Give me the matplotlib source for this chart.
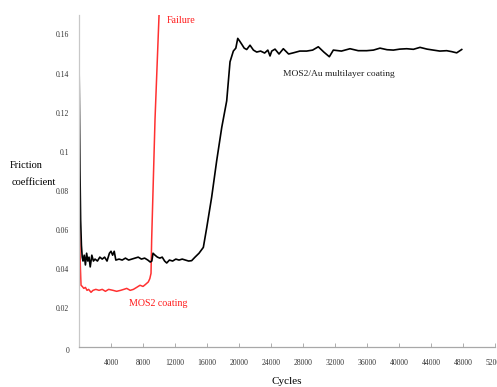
import numpy as np
import matplotlib
matplotlib.use('Agg')
import matplotlib.pyplot as plt

# MoS2/Au multilayer coating (black)
au_cycles = [0, 60, 120, 200, 300, 400, 500, 650, 800, 950, 1100, 1250, 1400, 1600,
             1800, 2000, 2300, 2600, 2900, 3200, 3500, 3800, 4000, 4200, 4400, 4600,
             5000, 5400, 5800, 6200, 6600, 7000, 7400, 7800, 8200, 8600, 8900, 9100,
             9250, 9500, 9800, 10100, 10400, 10700, 10960, 11300, 11700, 12100, 12500,
             12900, 13300, 13700, 14080, 14500, 15000, 15540, 15960, 16580, 17210,
             17840, 18460, 18875, 19290, 19600, 19840, 20100, 20340, 20650, 20960,
             21375, 21800, 22210, 22700, 23200, 23600, 23875, 24090, 24500, 25000,
             25540, 26200, 26790, 27600, 28460, 29200, 29910, 30600, 31290, 31790,
             32800, 33875, 34900, 35960, 36800, 37625, 38500, 39290, 40100, 40960,
             41800, 42625, 43500, 44290, 45100, 45960, 46600, 47210, 47840]
au_mu = [0.148, 0.12, 0.09, 0.065, 0.052, 0.046, 0.044, 0.047, 0.042, 0.048, 0.044,
         0.046, 0.041, 0.047, 0.044, 0.045, 0.044, 0.046, 0.045, 0.046, 0.044, 0.048,
         0.049, 0.047, 0.049, 0.0445, 0.045, 0.0445, 0.0455, 0.0445, 0.045, 0.0455,
         0.046, 0.045, 0.0455, 0.0445, 0.0435, 0.044, 0.048, 0.047, 0.046, 0.0455,
         0.046, 0.044, 0.043, 0.0445, 0.044, 0.045, 0.0445, 0.045, 0.0445, 0.044,
         0.0442, 0.046, 0.048, 0.051, 0.061, 0.0767, 0.0954, 0.1124, 0.126, 0.146,
         0.1515, 0.153, 0.158, 0.1565, 0.155, 0.153, 0.1523, 0.1545, 0.152, 0.151,
         0.1515, 0.1505, 0.152, 0.149, 0.1515, 0.1525, 0.150, 0.1527, 0.150, 0.1506,
         0.1515, 0.1515, 0.152, 0.1537, 0.151, 0.1486, 0.152, 0.1515, 0.1527, 0.1517,
         0.1517, 0.152, 0.153, 0.1522, 0.152, 0.1525, 0.1527, 0.1524, 0.1534, 0.1525,
         0.152, 0.1515, 0.1517, 0.1512, 0.1506, 0.1523]

# MoS2 coating (red)
mos2_cycles = [0, 80, 160, 250, 400, 600, 800, 1000, 1200, 1500, 1750, 2100, 2500,
               2900, 3300, 3700, 4250, 4700, 5200, 5600, 5960, 6400, 6800, 7200, 7625,
               8000, 8300, 8660, 8850, 9000, 9080, 9500, 10050]
mos2_mu = [0.081, 0.06, 0.042, 0.0316, 0.031, 0.030, 0.0305, 0.029, 0.0295, 0.028,
           0.029, 0.0295, 0.029, 0.0295, 0.0285, 0.0295, 0.029, 0.0285, 0.029, 0.0295,
           0.030, 0.029, 0.0295, 0.0305, 0.0316, 0.031, 0.032, 0.0333, 0.035, 0.0377,
           0.055, 0.1166, 0.175]

x_ticks = np.arange(4000, 52001, 4000)
y_ticks = np.arange(0, 0.161, 0.02)
y_tick_labels = ['0', '0.02', '0.04', '0.06', '0.08', '0.1', '0.12', '0.14', '0.16']

plt.rcParams['font.family'] = ['Liberation Serif', 'DejaVu Serif']

fig = plt.figure(figsize=(4.97, 3.87), dpi=100)
ax = fig.add_axes([0.159, 0.1034, 0.837, 0.858])

ax.plot(mos2_cycles, mos2_mu, color='#ff1a1a', lw=1.1, alpha=0.9)
ax.plot(au_cycles, au_mu, color='black', lw=1.2)

ax.set_xlim(0, 52000)
ax.set_ylim(0, 0.17)

ax.set_xticks(x_ticks)
ax.set_xticklabels([str(v) for v in x_ticks])
ax.set_yticks(y_ticks)
ax.set_yticklabels(y_tick_labels)
ax.tick_params(axis='x', direction='in', length=3, width=0.6, color='#a0a0a0',
               labelsize=5.5, labelcolor='#333333', pad=9)
ax.tick_params(axis='y', length=0, labelsize=5.5, labelcolor='#333333', pad=7)
# the "0" label sits a little below the axis in the original
ax.get_yticklabels()[0].set_verticalalignment('top')

for side in ['top', 'right']:
    ax.spines[side].set_visible(False)
ax.spines['left'].set_color('#c8c8c8')
ax.spines['bottom'].set_color('#a8a8a8')
ax.spines['left'].set_linewidth(0.9)
ax.spines['bottom'].set_linewidth(0.9)

ax.text(11000, 0.1672, 'Failure', color='#ff1a1a', fontsize=7.2, va='center', ha='left')
ax.text(6300, 0.0224, 'MOS2 coating', color='#ff1a1a', fontsize=7.2, va='center', ha='left')
ax.text(25500, 0.140, 'MOS2/Au multilayer coating', color='#222222', fontsize=6.8,
        va='center', ha='left')

fig.text(10 / 497, 1 - 165 / 387, 'Friction', fontsize=7.5, va='center', ha='left')
fig.text(12 / 497, 1 - 183 / 387, 'coefficient', fontsize=7.5, va='center', ha='left')
fig.text(287 / 497, 1 - 381 / 387, 'Cycles', fontsize=8, va='center', ha='center')

fig.savefig('out.png', dpi=100)
